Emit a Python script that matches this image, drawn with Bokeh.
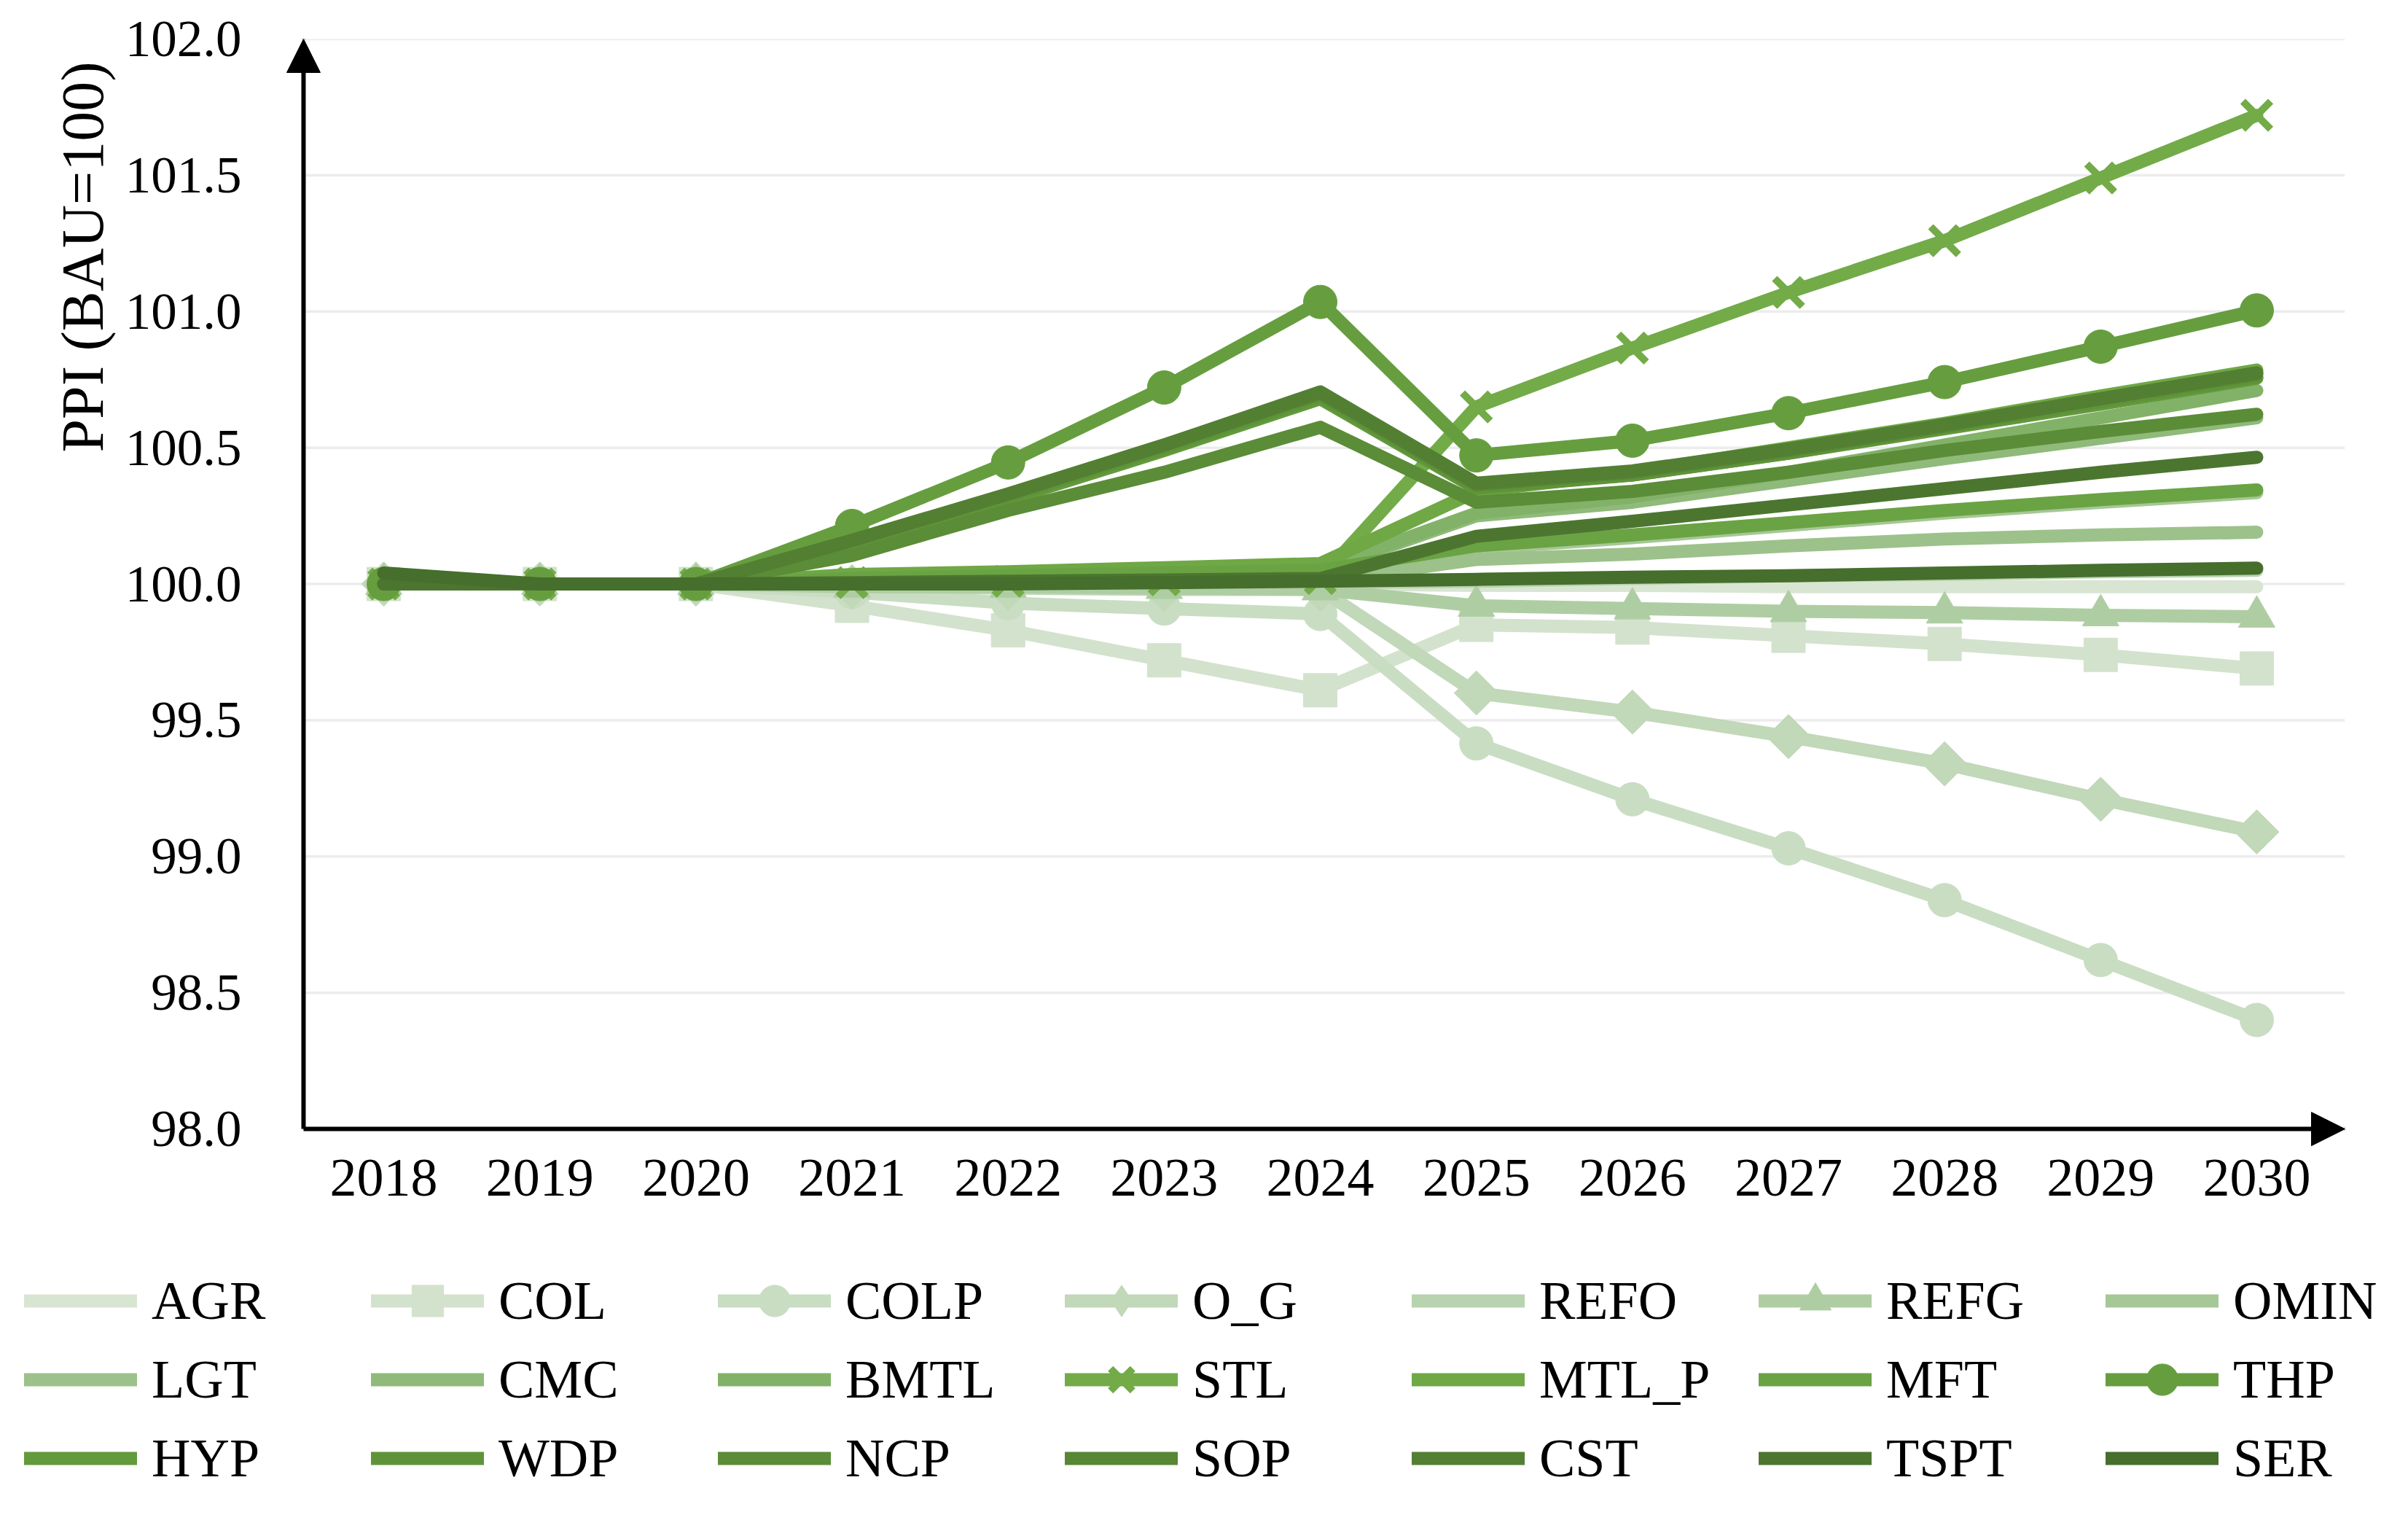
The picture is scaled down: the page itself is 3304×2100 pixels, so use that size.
import math
from bokeh.plotting import figure
from bokeh.models import (Range1d, FixedTicker, PrintfTickFormatter, Arrow, NormalHead,
                          Title, Legend, LegendItem)
from bokeh.embed import file_html
from bokeh.resources import INLINE

FONT = "Liberation Serif"

# ---------------- data ----------------
years = [2018, 2019, 2020, 2021, 2022, 2023, 2024, 2025, 2026, 2027, 2028, 2029, 2030]
yticks = [98.0, 98.5, 99.0, 99.5, 100.0, 100.5, 101.0, 101.5, 102.0]

sectors = ["AGR", "COL", "COLP", "O_G", "REFO", "REFG", "OMIN",
           "LGT", "CMC", "BMTL", "STL", "MTL_P", "MFT", "THP",
           "HYP", "WDP", "NCP", "SOP", "CST", "TSPT", "SER"]

AGR = [100.00, 100.00, 100.00, 100.00, 100.00, 100.00, 100.00, 99.995, 99.995, 99.99, 99.99, 99.99, 99.99]
COL = [100.00, 100.00, 100.00, 99.92, 99.83, 99.72, 99.61, 99.85, 99.84, 99.81, 99.78, 99.74, 99.69]
COLP = [100.00, 100.00, 100.00, 99.97, 99.93, 99.91, 99.89, 99.415, 99.21, 99.03, 98.84, 98.62, 98.40]
O_G = [100.00, 100.00, 100.00, 99.99, 99.985, 99.98, 99.98, 99.60, 99.53, 99.44, 99.34, 99.21, 99.09]
REFO = [100.00, 100.00, 100.00, 100.00, 100.00, 100.00, 100.005, 100.01, 100.02, 100.03, 100.035, 100.045, 100.05]
REFG = [100.00, 100.00, 100.00, 99.99, 99.99, 99.985, 99.98, 99.92, 99.91, 99.90, 99.895, 99.885, 99.88]
OMIN = [100.00, 100.00, 100.00, 100.01, 100.02, 100.03, 100.04, 100.13, 100.17, 100.215, 100.26, 100.30, 100.335]
LGT = [100.00, 100.00, 100.00, 100.00, 100.00, 100.01, 100.01, 100.09, 100.11, 100.14, 100.165, 100.18, 100.19]
CMC = [100.00, 100.00, 100.00, 100.02, 100.03, 100.04, 100.05, 100.25, 100.30, 100.38, 100.46, 100.535, 100.61]
BMTL = [100.00, 100.00, 100.00, 100.02, 100.03, 100.04, 100.055, 100.26, 100.32, 100.41, 100.51, 100.61, 100.71]
STL = [100.00, 100.00, 100.00, 100.005, 100.01, 100.015, 100.02, 100.65, 100.866, 101.07, 101.26, 101.49, 101.72]
MTL_P = [100.00, 100.00, 100.00, 100.035, 100.045, 100.06, 100.075, 100.34, 100.41, 100.50, 100.59, 100.69, 100.785]
MFT = [100.00, 100.00, 100.00, 100.02, 100.03, 100.04, 100.05, 100.14, 100.18, 100.225, 100.27, 100.31, 100.345]
THP = [100.00, 100.00, 100.00, 100.213, 100.446, 100.721, 101.035, 100.472, 100.526, 100.627, 100.741, 100.871, 101.004]
HYP = [100.00, 100.00, 100.00, 100.15, 100.31, 100.49, 100.68, 100.35, 100.40, 100.48, 100.57, 100.66, 100.755]
WDP = [100.00, 100.00, 100.00, 100.155, 100.32, 100.50, 100.69, 100.355, 100.40, 100.48, 100.575, 100.67, 100.76]
NCP = [100.00, 100.00, 100.00, 100.105, 100.27, 100.41, 100.575, 100.30, 100.34, 100.41, 100.49, 100.56, 100.623]
SOP = [100.00, 100.00, 100.00, 100.16, 100.33, 100.51, 100.70, 100.365, 100.41, 100.49, 100.58, 100.68, 100.77]
CST = [100.00, 100.00, 100.00, 100.16, 100.33, 100.51, 100.705, 100.37, 100.415, 100.495, 100.585, 100.68, 100.775]
TSPT = [100.00, 100.00, 100.00, 100.005, 100.01, 100.015, 100.02, 100.175, 100.23, 100.29, 100.35, 100.41, 100.465]
SER = [100.04, 100.00, 100.00, 100.00, 100.00, 100.005, 100.01, 100.017, 100.025, 100.03, 100.04, 100.05, 100.058]

series_values = [AGR, COL, COLP, O_G, REFO, REFG, OMIN, LGT, CMC, BMTL, STL, MTL_P, MFT, THP,
                 HYP, WDP, NCP, SOP, CST, TSPT, SER]

colors = ["#d9e5d3", "#d3e2cc", "#c9ddc3", "#c1d8b9", "#b8d3af", "#afcda3", "#a6c796",
          "#9dc18a", "#8fba7a", "#82b268", "#72ab48", "#6fa845", "#6aa343", "#669e3f",
          "#639a3c", "#5f9339", "#5b8c37", "#578635", "#537f33", "#4c7630", "#466e2c"]

markers = [None, "square", "circle", "diamond", None, "triangle", None,
           None, None, None, "x", None, None, "circle",
           None, None, None, None, None, None, None]

# ---------------- styling helpers ----------------
LINE_W = 18


def marker_kwargs(m, c, legend=False):
    if m is None:
        return None
    if m == "square":
        return dict(marker="square", size=46, fill_color=c, line_color=c, line_width=1)
    if m == "circle":
        return dict(marker="circle", size=46, fill_color=c, line_color=c, line_width=1)
    if m == "diamond":
        if legend:
            return dict(marker="diamond", size=50, fill_color=c, line_color=c, line_width=1)
        return dict(marker="square", angle=math.pi / 4, size=43, fill_color=c, line_color=c, line_width=1)
    if m == "triangle":
        return dict(marker="triangle", size=50, fill_color=c, line_color=c, line_width=1)
    if m == "x":
        return dict(marker="x", size=54, line_color=c, line_width=10)
    return None


# frame slightly larger than the axes so that the arrow heads are not clipped
X_AX = 2017.486          # position of the vertical axis
XR0, XR1 = 2017.346, 2030.565
Y_AX = 98.0              # position of the horizontal axis
YR0, YR1 = 97.92, 102.0

# ---------------- main chart ----------------
p = figure(width=3288, height=1730, x_range=Range1d(XR0, XR1), y_range=Range1d(YR0, YR1),
           output_backend="svg", toolbar_location=None, title=None,
           min_border_left=386, min_border_right=71, min_border_top=53, min_border_bottom=152)
p.outline_line_color = None
p.background_fill_color = "white"
p.border_fill_color = "white"
p.xgrid.visible = False
p.ygrid.visible = False

p.xaxis.ticker = FixedTicker(ticks=years)
p.xaxis.major_label_overrides = {y: str(y) for y in years}
p.yaxis.ticker = FixedTicker(ticks=yticks)
p.yaxis.formatter = PrintfTickFormatter(format="%.1f")
for ax in (p.xaxis, p.yaxis):
    ax.axis_line_color = None
    ax.major_tick_line_color = None
    ax.minor_tick_line_color = None
    ax.major_tick_out = 0
    ax.major_tick_in = 0
    ax.minor_tick_out = 0
    ax.major_label_text_font = FONT
    ax.major_label_text_color = "black"
p.xaxis.major_label_text_font_size = "74px"
p.yaxis.major_label_text_font_size = "71px"
p.xaxis.major_label_standoff = 12
p.yaxis.major_label_standoff = 55

# horizontal gridlines, from the vertical axis to the right edge
p.segment(x0=[X_AX] * len(yticks), x1=[XR1] * len(yticks), y0=yticks, y1=yticks,
          line_color="#ececec", line_width=3.5)

for name, vals, c, m in zip(sectors, series_values, colors, markers):
    p.line(years, vals, line_color=c, line_width=LINE_W, line_cap="round", line_join="round")
    mk = marker_kwargs(m, c)
    if mk:
        p.scatter(years, vals, **mk)

# axes as arrows
p.add_layout(Arrow(end=NormalHead(size=46, fill_color="black", line_color="black", line_width=1),
                   x_start=X_AX, y_start=Y_AX, x_end=X_AX, y_end=YR1,
                   line_color="black", line_width=6))
p.add_layout(Arrow(end=NormalHead(size=46, fill_color="black", line_color="black", line_width=1),
                   x_start=X_AX, y_start=Y_AX, x_end=XR1, y_end=Y_AX,
                   line_color="black", line_width=6))

p.add_layout(Title(text="PPI (BAU=100)", align="right", offset=31, standoff=20,
                   text_font=FONT, text_font_size="82px", text_font_style="normal",
                   text_color="black"), "left")

# ---------------- legend (separate canvas below) ----------------
q = figure(width=3288, height=354, x_range=Range1d(0, 1), y_range=Range1d(0, 1),
           output_backend="svg", toolbar_location=None, title=None,
           x_axis_type=None, y_axis_type=None, min_border=0)
q.outline_line_color = None
q.grid.visible = False

items = []
for name, c, m in zip(sectors, colors, markers):
    rl = q.line([-5, -4], [-5, -4], line_color=c, line_width=LINE_W, line_cap="round", line_join="round")
    rs = []
    mk = marker_kwargs(m, c, legend=True)
    if mk:
        rs = [q.scatter([-5], [-5], **mk)]
    items.append(LegendItem(label=name, renderers=[rl] + rs))

legend = Legend(items=items, orientation="horizontal", ncols=7, location=(33, 30),
                padding=0, margin=0, spacing=0,
                glyph_width=155, glyph_height=108, label_height=108, label_width=301,
                label_standoff=20, label_text_font=FONT, label_text_font_size="74px",
                label_text_baseline="middle", label_text_color="black",
                border_line_color=None, background_fill_alpha=0)
q.add_layout(legend, "center")

open("out.html", "w").write(file_html([p, q], INLINE))
